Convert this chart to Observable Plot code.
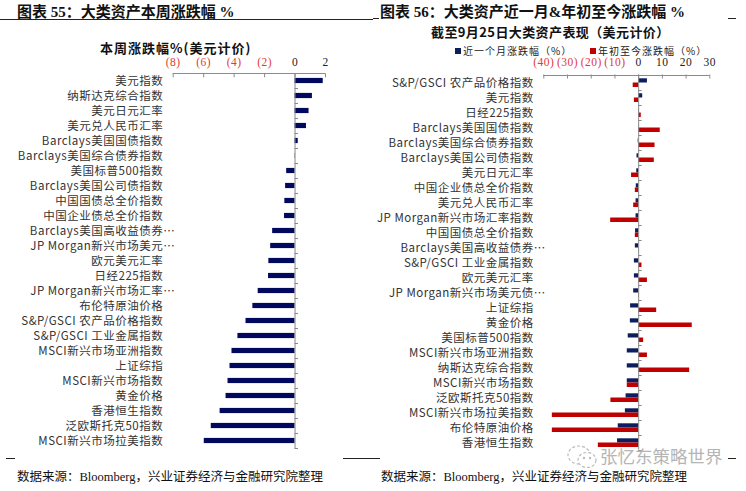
<!DOCTYPE html>
<html><head><meta charset="utf-8">
<script src="https://cdn.jsdelivr.net/npm/d3@7"></script>
<script src="https://cdn.jsdelivr.net/npm/@observablehq/plot@0.6"></script>
<style>
body{margin:0;width:746px;height:491px;background:#fff;position:relative;overflow:hidden;font-family:"Noto Sans CJK SC",sans-serif;color:#111;}
.abs{position:absolute;white-space:nowrap;}
.hdr{font-family:"Liberation Serif","Noto Sans CJK SC",serif;font-weight:bold;font-size:15px;line-height:18px;}
.ttl{font-weight:bold;font-size:13px;line-height:13px;}
.src{font-family:"Liberation Serif","Noto Sans CJK SC",serif;font-size:12.5px;line-height:16px;}
.hl{position:absolute;height:0;border-top:1px solid #222;}
.leg{font-size:10px;line-height:11px;letter-spacing:1px;color:#222;}
.sq{display:inline-block;width:6px;height:6px;margin-right:2px;vertical-align:1px;}
</style></head><body>

<div class="abs hdr" style="left:17px;top:3px">图表 55：大类资产本周涨跌幅 %</div>
<div class="hl" style="left:0;width:373px;top:19px"></div>
<div class="abs hdr" style="left:380px;top:3px">图表 56：大类资产近一月&amp;年初至今涨跌幅 %</div>
<div class="hl" style="left:373px;width:6px;top:18px"></div>
<div class="hl" style="left:728px;width:8px;top:18px"></div>

<div class="abs ttl" style="left:100px;top:41px;letter-spacing:1px">本周涨跌幅%(美元计价)</div>
<div class="abs ttl" style="left:431px;top:25px;letter-spacing:0.4px">截至9月25日大类资产表现（美元计价）</div>
<div class="abs leg" style="left:455px;top:44.5px"><span class="sq" style="background:#0d1d5e"></span>近一个月涨跌幅（%）</div>
<div class="abs leg" style="left:590px;top:44.5px"><span class="sq" style="background:#c00000"></span>年初至今涨跌幅（%）</div>

<div id="left" class="abs" style="left:0;top:55px"></div>
<div id="right" class="abs" style="left:373px;top:55px"></div>

<div class="hl" style="left:6px;width:9px;top:458px"></div>
<div class="hl" style="left:343px;width:37px;top:458px"></div>
<div class="hl" style="left:728px;width:8px;top:458px"></div>
<div class="abs src" style="left:17px;top:469px">数据来源：Bloomberg，兴业证券经济与金融研究院整理</div>
<div class="abs src" style="left:381px;top:469px">数据来源：Bloomberg，兴业证券经济与金融研究院整理</div>

<svg class="abs" style="left:566px;top:443px" width="34" height="28" viewBox="0 0 34 28">
  <ellipse cx="13" cy="12" rx="11" ry="9" fill="none" stroke="#bbb" stroke-width="1.2" stroke-dasharray="3 2"/>
  <ellipse cx="21" cy="17" rx="9" ry="7.5" fill="#fff" stroke="#bbb" stroke-width="1.2" stroke-dasharray="3 2"/>
  <circle cx="18" cy="15" r="1.2" fill="#bbb"/><circle cx="24" cy="15" r="1.2" fill="#bbb"/>
</svg>
<div class="abs" style="left:600px;top:444px;font-size:17.5px;line-height:24px;color:#b5b5b5;">张忆东策略世界</div>

<script>
// ---------- Data: 本周涨跌幅 (美元计价) ----------
const weekCategories = ["美元指数","纳斯达克综合指数","美元日元汇率","美元兑人民币汇率","Barclays美国国债指数","Barclays美国综合债券指数","美国标普500指数","Barclays美国公司债指数","中国国债总全价指数","中国企业债总全价指数","Barclays美国高收益债券…","JP Morgan新兴市场美元…","欧元美元汇率","日经225指数","JP Morgan新兴市场汇率…","布伦特原油价格","S&P/GSCI 农产品价格指数","S&P/GSCI 工业金属指数","MSCI新兴市场亚洲指数","上证综指","MSCI新兴市场指数","黄金价格","香港恒生指数","泛欧斯托克50指数","MSCI新兴市场拉美指数"];
const weekValues = [1.85,1.14,0.92,0.75,0.21,0.02,-0.55,-0.62,-0.67,-0.69,-1.47,-1.60,-1.72,-1.74,-2.42,-2.77,-3.22,-3.75,-4.14,-4.27,-4.40,-4.53,-4.92,-5.50,-5.96];
const weekTicks = [-8,-6,-4,-2,0,2];

// ---------- Data: 截至9月25日 近一个月 & 年初至今 ----------
const perfCategories = ["S&P/GSCI 农产品价格指数","美元指数","日经225指数","Barclays美国国债指数","Barclays美国综合债券指数","Barclays美国公司债指数","美元日元汇率","中国企业债总全价指数","美元兑人民币汇率","JP Morgan新兴市场汇率指数","中国国债总全价指数","Barclays美国高收益债券…","S&P/GSCI 工业金属指数","欧元美元汇率","JP Morgan新兴市场美元债…","上证综指","黄金价格","美国标普500指数","MSCI新兴市场亚洲指数","纳斯达克综合指数","MSCI新兴市场指数","泛欧斯托克50指数","MSCI新兴市场拉美指数","布伦特原油价格","香港恒生指数"];
const monthValues = [3.7,1.7,0.2,0.1,-0.2,-0.7,-0.8,-1.0,-1.1,-1.1,-1.3,-1.4,-1.8,-1.8,-2.1,-3.4,-3.5,-4.4,-4.8,-4.8,-4.8,-5.3,-5.6,-8.6,-8.9];
const ytdValues = [-2.3,-1.8,1.1,9.1,6.9,6.6,-3.0,-1.4,-2.1,-11.8,-1.4,0.1,1.4,3.7,0.2,7.6,22.6,2.1,3.7,21.5,-4.8,-11.7,-36.4,-36.4,-17.0];
const perfTicks = [-40,-30,-20,-10,0,10,20,30];

const NAVY = "#00095e", BLUE2 = "#0d1d5e", RED = "#c00000", NEG = "#e23a3a", AXIS = "#8a8a8a";
const fmtTick = d => d < 0 ? `(${-d})` : `${d}`;
const stripEll = d => d.replace("…", "");
const baseStyle = {fontFamily: '"Noto Sans CJK SC", sans-serif', fontSize: "11.5px", letterSpacing: "0.5px", overflow: "visible", background: "transparent", color: "#333"};

function chart({cats, domain, ticks, marginLeft, marginRight, marginTop, marginBottom, tickDy, barMarks}) {
  const W = 373, H = 400;
  const innerH = H - marginTop - marginBottom;
  const step = innerH / cats.length;
  return Plot.plot({
    width: W, height: H, marginLeft, marginRight, marginTop, marginBottom,
    style: baseStyle,
    x: {domain, axis: null},
    y: {type: "band", domain: cats, padding: 0, axis: null},
    marks: [
      ...barMarks(step),
      // vertical axis at zero
      Plot.ruleX([0], {stroke: AXIS, strokeWidth: 1}),
      // category boundary ticks on the zero axis
      Plot.ruleY(cats, {y: d => d, x1: 0, x2: 0, insetRight: -3.5, dy: step / 2, stroke: AXIS}),
      // top axis line
      Plot.ruleY([cats[0]], {y: d => d, x1: domain[0], x2: domain[1], dy: -step / 2, stroke: AXIS}),
      // top axis ticks pointing inward
      Plot.ruleX(ticks, {x: d => d, insetBottom: innerH - 4, stroke: AXIS}),
      // top axis labels
      Plot.text(ticks, {x: d => d, frameAnchor: "top", lineAnchor: "middle", dy: tickDy, text: fmtTick,
        fill: d => d < 0 ? NEG : "#222", fontFamily: '"Liberation Serif", serif', fontSize: 11.5}),
      // category labels
      Plot.text(cats, {y: d => d, text: stripEll, frameAnchor: "left", textAnchor: "end", dx: -10, fill: "#333", fontSize: 11.5}),
      Plot.text(cats.filter(d => d.endsWith("…")), {y: d => d, text: () => "…", frameAnchor: "left", textAnchor: "start", dx: -10, fill: "#333", fontSize: 11.5})
    ]
  });
}

const weekData = weekCategories.map((c, i) => ({c, v: weekValues[i]}));
document.getElementById("left").append(chart({
  cats: weekCategories, domain: [-8, 2], ticks: weekTicks,
  marginLeft: 172.7, marginRight: 48, marginTop: 18.3, marginBottom: 6.3, tickDy: -11,
  barMarks: step => [Plot.barX(weekData, {y: "c", x: "v", fill: NAVY, insetTop: (step - 5.2) / 2, insetBottom: (step - 5.2) / 2})]
}));

const perfData = perfCategories.map((c, i) => ({c, m: monthValues[i], y: ytdValues[i]}));
document.getElementById("right").append(chart({
  cats: perfCategories, domain: [-40, 30], ticks: perfTicks,
  marginLeft: 170.3, marginRight: 36.7, marginTop: 19.5, marginBottom: 5.5, tickDy: -12.5,
  barMarks: step => [
    Plot.barX(perfData, {y: "c", x: "m", fill: BLUE2, insetTop: step / 2 - 4.2, insetBottom: step / 2}),
    Plot.barX(perfData, {y: "c", x: "y", fill: RED, insetTop: step / 2, insetBottom: step / 2 - 4.5})
  ]
}));
</script>
</body></html>
